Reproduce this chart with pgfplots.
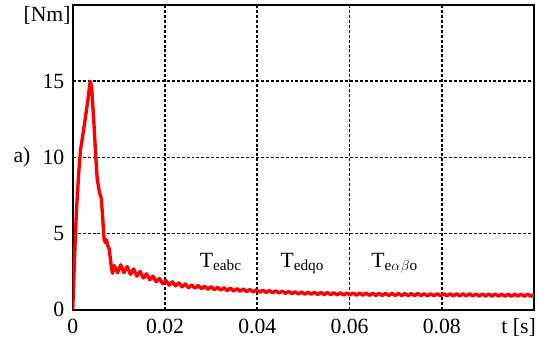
\documentclass[border=0pt]{standalone}
\usepackage{fontspec}
\setmainfont{Liberation Serif}
\usepackage{pgfplots}
\pgfplotsset{compat=1.18}
\begin{document}
\fontsize{22}{25}\selectfont
\newcommand{\sub}[1]{\raisebox{-0.35ex}{\fontsize{15.5}{15.5}\selectfont #1}}
\begin{tikzpicture}
\useasboundingbox (-68bp,-33bp) rectangle (470bp,313bp);
\begin{axis}[
  at={(0,0)}, anchor=origin,
  scale only axis, width=466bp, height=308bp,
  xmin=0, xmax=0.1, ymin=0, ymax=20,
  xtick={0,0.02,0.04,0.06,0.08}, ytick={0,5,10,15},
  extra x ticks={0.1}, extra x tick labels={}, extra y ticks={20}, extra y tick labels={},
  xticklabels={0,0.02,0.04,0.06,0.08}, yticklabels={0,5,10,15},
  /pgf/number format/assume math mode=true,
  ticklabel style={font=\fontsize{22}{25}\selectfont},
  major tick length=0pt,
  grid=major,
  major grid style={black, line width=1.6bp, dash pattern=on 3bp off 2bp},
  axis line style={black, line width=2.4bp},
  xticklabel style={yshift=-2bp},
  yticklabel style={xshift=-1bp},
  clip=true,
]
\addplot[red, line width=3.4bp, line join=round] coordinates {
(0,0) (0.0004,3.5) (0.0008,6.5) (0.0013,9) (0.0017,10.5) (0.0026,12.3) (0.0033,13.8) (0.0038,15) (0.0041,14.6)
(0.0046,12.2) (0.0050,10.0) (0.0053,8.6) (0.0058,7.7) (0.0062,7.3) (0.0065,6.0) (0.0068,4.6) (0.0071,4.4)
(0.0073,4.6) (0.0076,4.2) (0.0079,4.0) (0.0083,3.0) (0.0086,2.4)
(0.0090,2.90) (0.0097,2.43) (0.0104,2.95) (0.0111,2.44) (0.0118,2.84) (0.0125,2.33) (0.0132,2.68) (0.0139,2.21)
(0.0146,2.52) (0.0153,2.09) (0.0160,2.36) (0.0167,1.97) (0.0174,2.21) (0.0181,1.84) (0.0188,2.06) (0.0195,1.71)
(0.0202,1.92) (0.0209,1.62) (0.0216,1.84) (0.0223,1.57) (0.0230,1.77) (0.0237,1.51) (0.0244,1.70) (0.0251,1.45)
(0.0258,1.64) (0.0265,1.42) (0.0272,1.60) (0.0279,1.38) (0.0286,1.56) (0.0293,1.34) (0.0300,1.52) (0.0307,1.32)
(0.0314,1.48) (0.0321,1.29) (0.0328,1.46) (0.0335,1.26) (0.0342,1.43) (0.0349,1.23) (0.0356,1.39) (0.0363,1.22)
(0.0370,1.37) (0.0377,1.19) (0.0384,1.34) (0.0391,1.17) (0.0398,1.32) (0.0405,1.15) (0.0412,1.29) (0.0419,1.14)
(0.0426,1.27) (0.0433,1.12) (0.0440,1.25) (0.0447,1.10) (0.0454,1.23) (0.0461,1.08) (0.0468,1.21) (0.0475,1.06)
(0.0482,1.19) (0.0489,1.04) (0.0496,1.17) (0.0503,1.03) (0.0510,1.16) (0.0517,1.02) (0.0524,1.15) (0.0531,1.01)
(0.0538,1.14) (0.0545,1.00) (0.0552,1.13) (0.0559,0.99) (0.0566,1.12) (0.0573,0.98) (0.0580,1.12) (0.0587,0.97)
(0.0594,1.11) (0.0601,0.97) (0.0608,1.11) (0.0615,0.96) (0.0622,1.10) (0.0629,0.96) (0.0636,1.10) (0.0643,0.95)
(0.0650,1.09) (0.0657,0.95) (0.0664,1.09) (0.0671,0.94) (0.0678,1.08) (0.0685,0.94) (0.0692,1.08) (0.0699,0.94)
(0.0706,1.08) (0.0713,0.93) (0.0720,1.07) (0.0727,0.93) (0.0734,1.07) (0.0741,0.93) (0.0748,1.07) (0.0755,0.93)
(0.0762,1.06) (0.0769,0.92) (0.0776,1.06) (0.0783,0.92) (0.0790,1.06) (0.0797,0.92) (0.0804,1.06) (0.0811,0.92)
(0.0818,1.05) (0.0825,0.91) (0.0832,1.05) (0.0839,0.91) (0.0846,1.05) (0.0853,0.91) (0.0860,1.05) (0.0867,0.91)
(0.0874,1.04) (0.0881,0.90) (0.0888,1.04) (0.0895,0.90) (0.0902,1.04) (0.0909,0.90) (0.0916,1.04) (0.0923,0.90)
(0.0930,1.03) (0.0937,0.89) (0.0944,1.03) (0.0951,0.89) (0.0958,1.03) (0.0965,0.89) (0.0972,1.03) (0.0979,0.89)
(0.0986,1.03) (0.0993,0.89) (0.1000,1.00)
};
\node[anchor=base west, inner sep=0] at (axis cs:0.0275,2.8) {T\sub{eabc}};
\node[anchor=base west, inner sep=0] at (axis cs:0.045,2.8) {T\sub{edqo}};
\node[anchor=base west, inner sep=0] at (axis cs:0.0647,2.8) {T\sub{e$\alpha$\kern0.5bp$\beta$o}};
\end{axis}
\node[anchor=east, inner sep=0] at (-2bp,297bp) {[Nm]};
\node[anchor=west, inner sep=0] at (-60bp,154bp) {a)};
\node[anchor=north east, inner sep=0] at (468bp,-8bp) {t [s]};
\end{tikzpicture}
\end{document}
